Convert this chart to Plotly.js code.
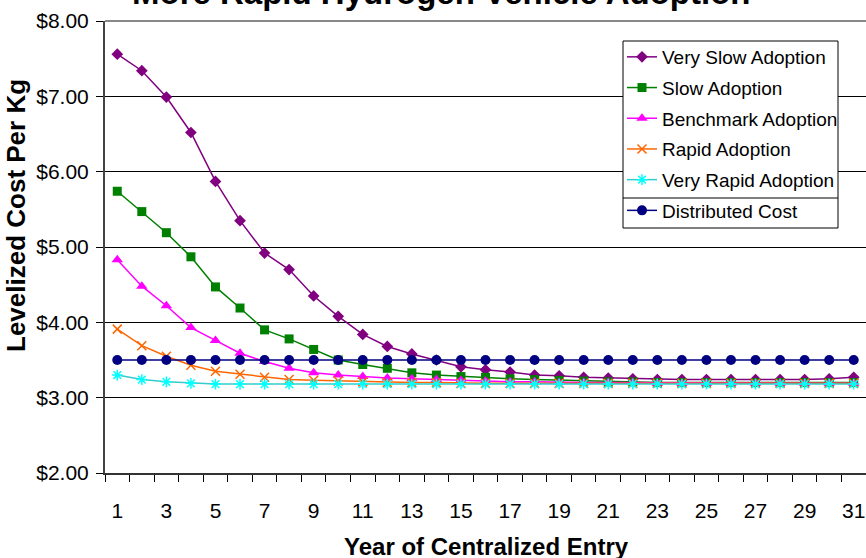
<!DOCTYPE html>
<html>
<head>
<meta charset="utf-8">
<script src="https://cdn.plot.ly/plotly-3.0.1.min.js"></script>
<style>html,body{margin:0;padding:0;background:#fff;}#chart{width:866px;height:558px;}</style>
</head>
<body>
<div id="chart"></div>
<script>
// ---- data ----
const years = [1,2,3,4,5,6,7,8,9,10,11,12,13,14,15,16,17,18,19,20,21,22,23,24,25,26,27,28,29,30,31];
const tickYears = [1,3,5,7,9,11,13,15,17,19,21,23,25,27,29,31];
const tickYearLabels = ["1","3","5","7","9","11","13","15","17","19","21","23","25","27","29","31"];
const verySlow = [7.56,7.34,6.99,6.52,5.87,5.35,4.92,4.70,4.35,4.08,3.84,3.68,3.58,3.50,3.41,3.37,3.34,3.30,3.29,3.27,3.26,3.25,3.24,3.24,3.24,3.24,3.24,3.24,3.24,3.25,3.27];
const slow = [5.74,5.47,5.19,4.87,4.47,4.19,3.90,3.78,3.64,3.50,3.44,3.39,3.33,3.30,3.28,3.27,3.25,3.24,3.23,3.22,3.21,3.21,3.20,3.20,3.20,3.20,3.20,3.20,3.20,3.20,3.20];
const benchmark = [4.83,4.48,4.22,3.93,3.76,3.59,3.48,3.39,3.33,3.30,3.28,3.26,3.25,3.24,3.23,3.22,3.21,3.21,3.20,3.20,3.20,3.20,3.19,3.19,3.19,3.19,3.19,3.19,3.19,3.19,3.19];
const rapid = [3.91,3.69,3.55,3.43,3.35,3.31,3.27,3.24,3.23,3.22,3.21,3.20,3.20,3.20,3.19,3.19,3.19,3.19,3.19,3.19,3.19,3.19,3.19,3.19,3.19,3.19,3.19,3.19,3.19,3.19,3.19];
const veryRapid = [3.30,3.24,3.21,3.19,3.18,3.18,3.18,3.18,3.18,3.18,3.18,3.18,3.18,3.18,3.18,3.18,3.18,3.18,3.18,3.18,3.18,3.18,3.18,3.18,3.18,3.18,3.18,3.18,3.18,3.18,3.18];
const distributed = [3.50,3.50,3.50,3.50,3.50,3.50,3.50,3.50,3.50,3.50,3.50,3.50,3.50,3.50,3.50,3.50,3.50,3.50,3.50,3.50,3.50,3.50,3.50,3.50,3.50,3.50,3.50,3.50,3.50,3.50,3.50];
const seriesNames = ["Very Slow Adoption","Slow Adoption","Benchmark Adoption","Rapid Adoption","Very Rapid Adoption","Distributed Cost"];

// ---- chart ----
const FONT = "Liberation Sans, Arial, Helvetica, sans-serif";
function tr(y, name, lineColor, markerColor, symbol, size, mline) {
  return {
    x: years, y: y, name: name, type: "scatter", mode: "lines+markers",
    legendgroup: name,
    line: {color: lineColor, width: 1.5},
    marker: {color: markerColor, symbol: symbol, size: size,
             line: mline ? {color: markerColor, width: 1.5} : {width: 0}},
    cliponaxis: false
  };
}
const data = [
  tr(verySlow, seriesNames[0], "#800080", "#800080", "diamond", 9, false),
  tr(slow, seriesNames[1], "#008000", "#008000", "square", 9, false),
  tr(benchmark, seriesNames[2], "#FF00FF", "#FF00FF", "triangle-up", 10, false),
  tr(rapid, seriesNames[3], "#FF6600", "#FF6600", "x-thin-open", 9, true),
  tr(veryRapid, seriesNames[4], "#33CCCC", "#00FFFF", "asterisk-open", 9, true),
  tr(distributed, seriesNames[5], "#000080", "#000080", "circle", 10, false)
];

const L = 105, R = 866, T = 21, B = 473;
const W = R - L, H = B - T;
const px = v => (v - L) / W;
const py = v => (B - v) / H;

const layout = {
  width: 866, height: 558,
  margin: {l: L, r: 866 - R, t: T, b: 558 - B, pad: 0},
  paper_bgcolor: "#fff", plot_bgcolor: "#fff",
  font: {family: FONT, color: "#000"},
  showlegend: true,
  legend: {
    x: px(622), y: py(38), xanchor: "left", yanchor: "top",
    bgcolor: "rgba(0,0,0,0)", borderwidth: 0,
    font: {family: FONT, size: 19, color: "#000"},
    traceorder: "grouped", tracegroupgap: 3, itemwidth: 30
  },
  xaxis: {
    type: "linear", range: [0.5, 31.5],
    tickmode: "array", tickvals: tickYears, ticktext: tickYearLabels,
    ticks: "outside", ticklen: 18, tickcolor: "rgba(0,0,0,0)",
    tickfont: {family: FONT, size: 21, color: "#000"},
    showgrid: false, zeroline: false,
    showline: true, linecolor: "#333", linewidth: 2,
    minor: {tickmode: "linear", tick0: 0.5, dtick: 1, ticks: "outside", ticklen: 7, tickcolor: "#000", tickwidth: 1, showgrid: false}
  },
  yaxis: {
    range: [2, 8], tickmode: "linear", tick0: 2, dtick: 1,
    tickprefix: "$", tickformat: ".2f",
    ticks: "outside", ticklen: 7, tickcolor: "#000", tickwidth: 1,
    tickfont: {family: FONT, size: 21, color: "#000"},
    ticklabelstandoff: 3,
    showgrid: true, gridcolor: "#000", gridwidth: 1,
    zeroline: false, showline: true, linecolor: "#444", linewidth: 2
  },
  shapes: [
    {type: "line", xref: "paper", yref: "paper", x0: 0, x1: 1, y0: 1, y1: 1, line: {color: "#888", width: 2}, layer: "below"},
    {type: "rect", xref: "paper", yref: "paper", x0: px(623), x1: px(838), y0: py(228), y1: py(41),
     fillcolor: "#fff", line: {color: "#000", width: 1}, layer: "above"},
    {type: "line", xref: "paper", yref: "paper", x0: px(623), x1: px(838), y0: py(198), y1: py(198),
     line: {color: "#000", width: 1}, layer: "above"}
  ],
  annotations: [
    {text: "More Rapid Hydrogen Vehicle Adoption", xref: "paper", yref: "paper",
     x: px(441.5), y: py(13), xanchor: "center", yanchor: "bottom", showarrow: false,
     font: {family: FONT, size: 33, weight: "bold", color: "#000"}},
    {text: "Levelized Cost Per Kg", xref: "paper", yref: "paper",
     x: px(16), y: py(216), xanchor: "center", yanchor: "middle", textangle: -90, showarrow: false,
     font: {family: FONT, size: 26, weight: "bold", color: "#000"}},
    {text: "Year of Centralized Entry", xref: "paper", yref: "paper",
     x: px(486.5), y: py(546), xanchor: "center", yanchor: "middle", showarrow: false,
     font: {family: FONT, size: 24, weight: "bold", color: "#000"}}
  ]
};

Plotly.newPlot("chart", data, layout, {displayModeBar: false, staticPlot: true});
</script>
</body>
</html>
